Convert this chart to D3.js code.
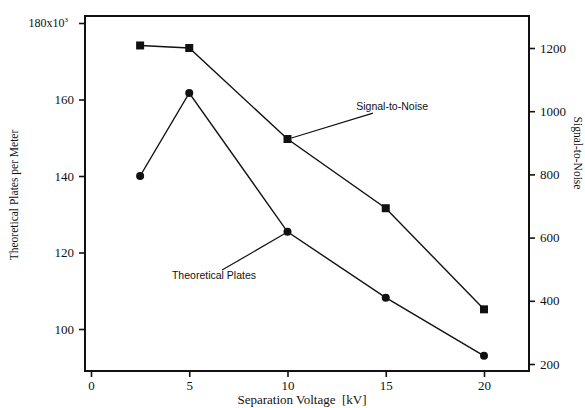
<!DOCTYPE html>
<html>
<head>
<meta charset="utf-8">
<script src="https://cdn.jsdelivr.net/npm/d3@7"></script>
<style>
  body { margin: 0; background: #fff; }
  text { fill: #111; }
</style>
</head>
<body>
<div class="chart"></div>
<script>
// data
var voltages = [2.5, 5, 10, 15, 20];
var plates = [140, 161.7, 125.4, 108.2, 93.0];        // x10^3 plates per meter
var signalNoise = [1208, 1200, 912, 693, 373];
var xTicks = [0, 5, 10, 15, 20];
var plateTicks = [100, 120, 140, 160, 180];
var snTicks = [200, 400, 600, 800, 1000, 1200];

var width = 585;
var height = 408;

//////// frame
var frameLeft = 85, frameRight = 529, frameTop = 16, frameBottom = 371;

var x = d3.scaleLinear().domain([0, 20]).range([91, 484]);
var yLeft = d3.scaleLinear().domain([100, 180]).range([329, 23]);
var yRight = d3.scaleLinear().domain([200, 1200]).range([364, 48]);

var svg = d3.select(".chart")
    .append("svg")
    .attr("width", width)
    .attr("height", height);

var serif = "'Liberation Serif', 'DejaVu Serif', serif";
var sans = "'Liberation Sans', Arial, sans-serif";

// box
svg.append("rect")
    .attr("x", frameLeft)
    .attr("y", frameTop)
    .attr("width", frameRight - frameLeft)
    .attr("height", frameBottom - frameTop)
    .attr("fill", "none")
    .attr("stroke", "#111")
    .attr("stroke-width", 2);

// left axis
var leftAxis = svg.append("g")
    .attr("transform", "translate(" + frameLeft + ",0)")
    .call(d3.axisLeft(yLeft).tickValues(plateTicks).tickSize(6).tickPadding(5)
        .tickFormat(function(d) { return d === 180 ? "180x10" : d; }));
leftAxis.select(".domain").remove();

// right axis
var rightAxis = svg.append("g")
    .attr("transform", "translate(" + frameRight + ",0)")
    .call(d3.axisRight(yRight).tickValues(snTicks).tickSize(6).tickPadding(5)
        .tickFormat(d3.format("d")));
rightAxis.select(".domain").remove();

// bottom axis
var bottomAxis = svg.append("g")
    .attr("transform", "translate(0," + frameBottom + ")")
    .call(d3.axisBottom(x).tickValues(xTicks).tickSize(6).tickPadding(4));
bottomAxis.select(".domain").remove();

svg.selectAll(".tick line").attr("stroke", "#111").attr("stroke-width", 1.6);
svg.selectAll(".tick text")
    .attr("font-family", serif)
    .attr("font-size", "13px")
    .attr("fill", "#111");

// exponent on the top left tick: 180x10^3
var topLabel = leftAxis.selectAll(".tick text")
    .filter(function(d) { return d === 180; })
    .attr("font-size", "12px")
    .attr("dx", "-6");
topLabel.append("tspan")
    .attr("dy", "-5")
    .attr("font-size", "7px")
    .text("3");

//////// series
var plateLine = d3.line()
    .x(function(d, i) { return x(voltages[i]); })
    .y(function(d) { return yLeft(d); });

var snLine = d3.line()
    .x(function(d, i) { return x(voltages[i]); })
    .y(function(d) { return yRight(d); });

svg.append("path")
    .attr("d", plateLine(plates))
    .attr("fill", "none")
    .attr("stroke", "#111")
    .attr("stroke-width", 1.4);

svg.append("path")
    .attr("d", snLine(signalNoise))
    .attr("fill", "none")
    .attr("stroke", "#111")
    .attr("stroke-width", 1.4);

svg.selectAll(".plate-dot")
    .data(plates)
    .enter()
    .append("circle")
    .attr("cx", function(d, i) { return x(voltages[i]); })
    .attr("cy", function(d) { return yLeft(d); })
    .attr("r", 4)
    .attr("fill", "#111");

svg.selectAll(".sn-square")
    .data(signalNoise)
    .enter()
    .append("rect")
    .attr("x", function(d, i) { return x(voltages[i]) - 4; })
    .attr("y", function(d) { return yRight(d) - 4; })
    .attr("width", 8)
    .attr("height", 8)
    .attr("fill", "#111");

//////// callouts
// Signal-to-Noise points at the 10 kV square
svg.append("line")
    .attr("x1", x(10) + 4)
    .attr("y1", yRight(signalNoise[2]) - 1)
    .attr("x2", x(14.35))
    .attr("y2", yRight(994))
    .attr("stroke", "#111")
    .attr("stroke-width", 1.2);

svg.append("text")
    .attr("x", x(13.5))
    .attr("y", yRight(1004))
    .attr("font-family", sans)
    .attr("font-size", "10.5px")
    .text("Signal-to-Noise");

// Theoretical Plates points at the 10 kV circle
svg.append("line")
    .attr("x1", x(10) - 3)
    .attr("y1", yLeft(plates[2]) + 2)
    .attr("x2", x(6.67))
    .attr("y2", yLeft(115.4))
    .attr("stroke", "#111")
    .attr("stroke-width", 1.2);

svg.append("text")
    .attr("x", x(4.12))
    .attr("y", yLeft(113.1))
    .attr("font-family", sans)
    .attr("font-size", "10.5px")
    .text("Theoretical Plates");

//////// axis titles
svg.append("text")
    .attr("transform", "translate(18,195) rotate(-90)")
    .attr("text-anchor", "middle")
    .attr("font-family", serif)
    .attr("font-size", "11.5px")
    .text("Theoretical Plates per Meter");

svg.append("text")
    .attr("transform", "translate(574,153) rotate(90)")
    .attr("text-anchor", "middle")
    .attr("font-family", serif)
    .attr("font-size", "11.5px")
    .text("Signal-to-Noise");

svg.append("text")
    .attr("x", 302)
    .attr("y", 404)
    .attr("text-anchor", "middle")
    .attr("font-family", serif)
    .attr("font-size", "13px")
    .attr("xml:space", "preserve")
    .text("Separation Voltage  [kV]");
</script>
</body>
</html>
